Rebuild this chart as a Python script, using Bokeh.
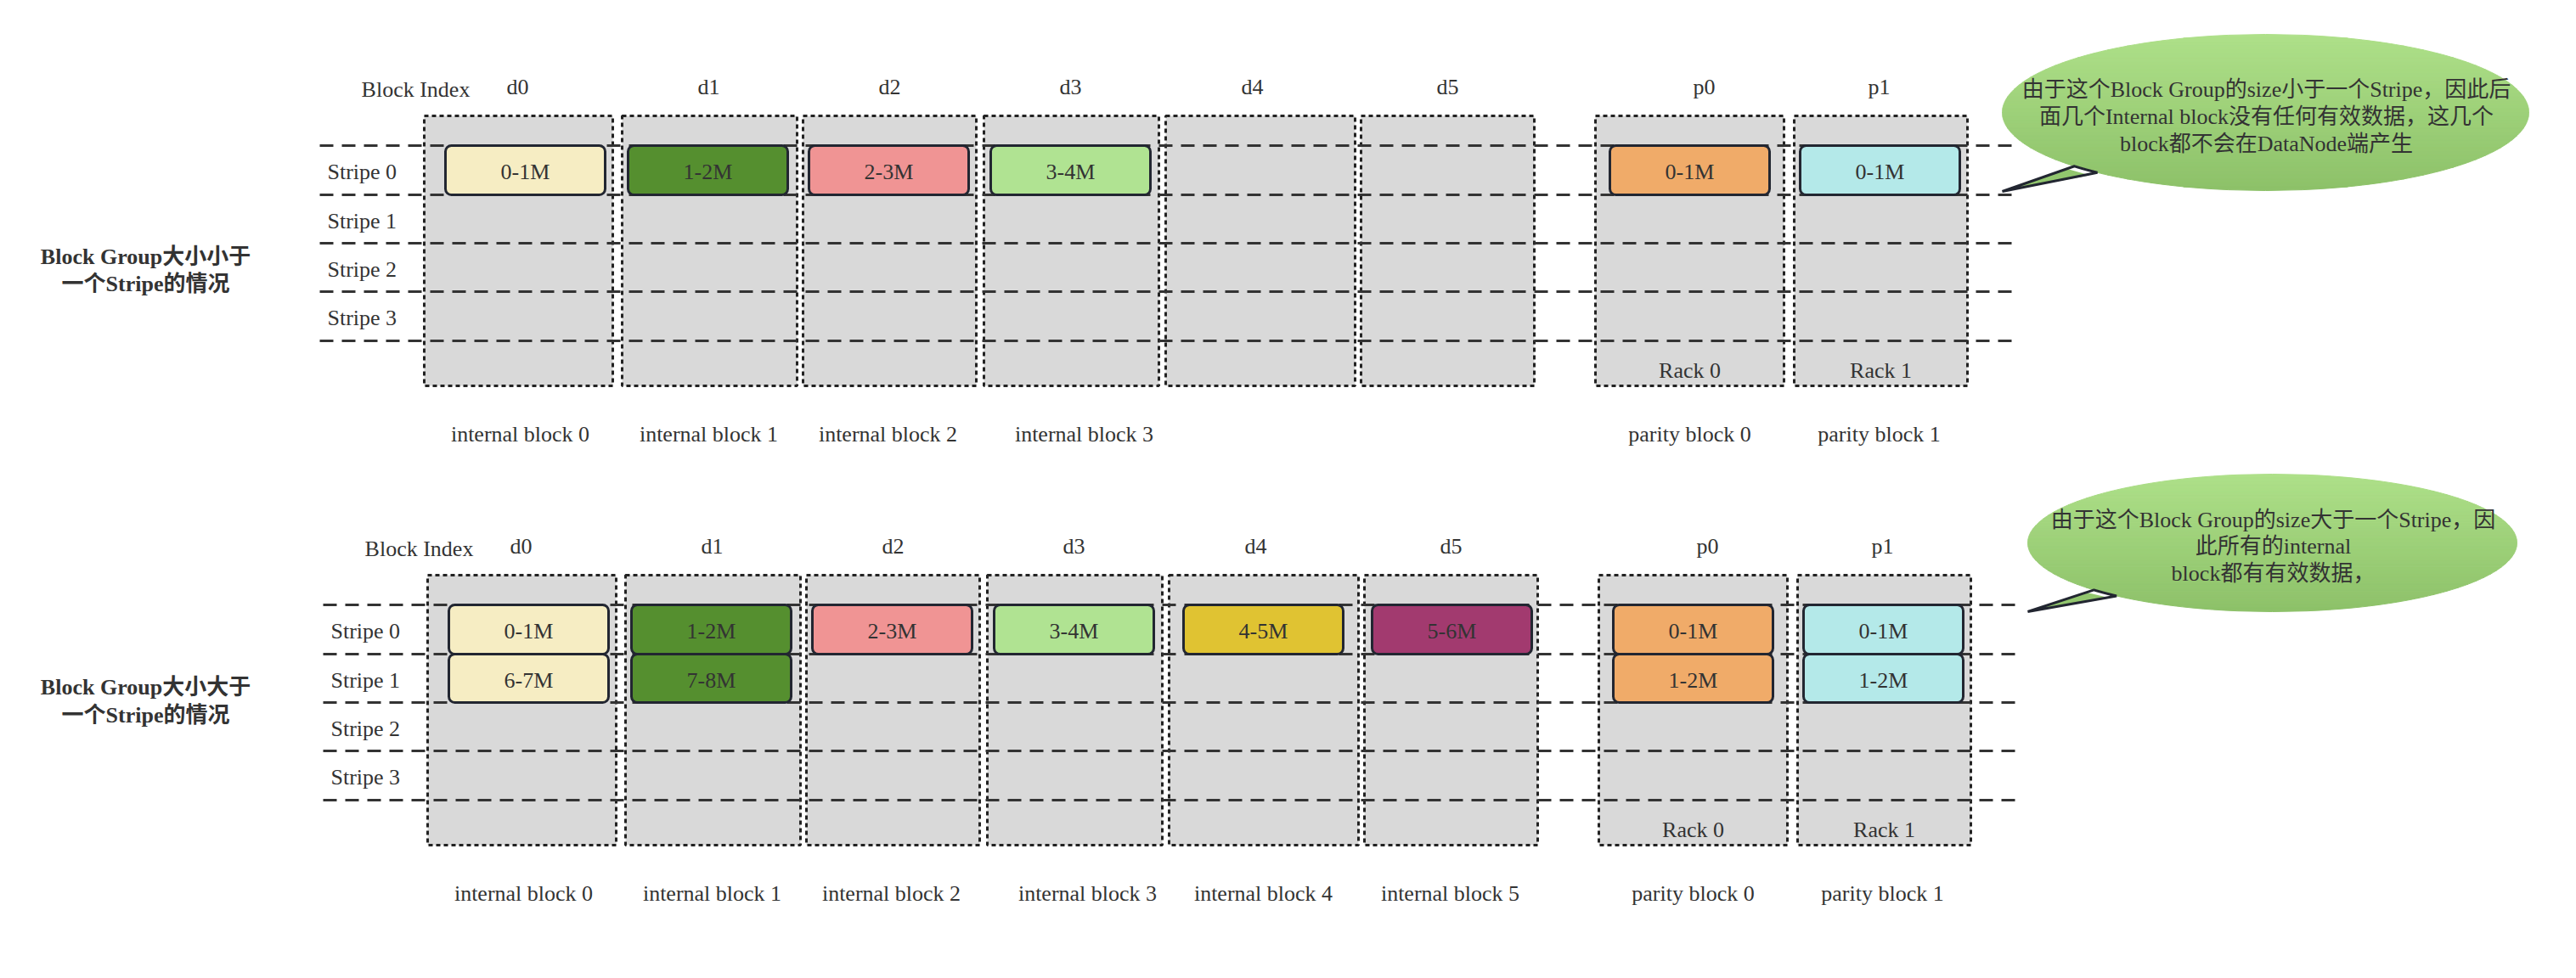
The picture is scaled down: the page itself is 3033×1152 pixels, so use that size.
import numpy as np
from bokeh.plotting import figure
from bokeh.models import Range1d
from bokeh.embed import file_html
from bokeh.resources import INLINE
from bokeh.core.properties import value

# ---------------- data ----------------
block_index = ["d0", "d1", "d2", "d3", "d4", "d5", "p0", "p1"]
stripes = ["Stripe 0", "Stripe 1", "Stripe 2", "Stripe 3"]
racks = ["Rack 0", "Rack 1"]
rack_cols = ["p0", "p1"]

small_title = ["Block Group大小小于", "一个Stripe的情况"]
large_title = ["Block Group大小大于", "一个Stripe的情况"]

small_cells_col = ["d0", "d1", "d2", "d3", "p0", "p1"]
small_cells_stripe = [0, 0, 0, 0, 0, 0]
small_cells_label = ["0-1M", "1-2M", "2-3M", "3-4M", "0-1M", "0-1M"]

large_cells_col = ["d0", "d1", "d2", "d3", "d4", "d5", "p0", "p1", "d0", "d1", "p0", "p1"]
large_cells_stripe = [0, 0, 0, 0, 0, 0, 0, 0, 1, 1, 1, 1]
large_cells_label = ["0-1M", "1-2M", "2-3M", "3-4M", "4-5M", "5-6M", "0-1M", "0-1M",
                     "6-7M", "7-8M", "1-2M", "1-2M"]

small_block_names = ["internal block 0", "internal block 1", "internal block 2", "internal block 3",
                     "", "", "parity block 0", "parity block 1"]
large_block_names = ["internal block 0", "internal block 1", "internal block 2", "internal block 3",
                     "internal block 4", "internal block 5", "parity block 0", "parity block 1"]

small_note = ["由于这个Block Group的size小于一个Stripe，因此后",
              "面几个Internal block没有任何有效数据，这几个",
              "block都不会在DataNode端产生"]
large_note = ["由于这个Block Group的size大于一个Stripe，因",
              "此所有的internal",
              "block都有有效数据，"]

# ---------------- styles / layout ----------------
col_color = {"d0": "#f6edc3", "d1": "#558f2f", "d2": "#f09494", "d3": "#b0e392",
             "d4": "#e0c332", "d5": "#a23a6f", "p0": "#f0ab69", "p1": "#b4e9e9"}
col_left = [507, 740, 953, 1166, 1380, 1610, 1886, 2120]
col_right = [729, 946, 1157, 1372, 1603, 1814, 2108, 2324]
blk_left = [532, 747, 960, 1174, 1397, 1619, 1903, 2127]
blk_w = 188
index_x = [617, 842, 1055, 1268, 1482, 1712, 2014, 2220]
name_x = [620, 842, 1053, 1284, 1491, 1711, 1997, 2220]
col_top, col_bot = 144, 462
stripe_lines = [179, 237, 294, 351, 409]
line_x0, line_x1 = 384, 2378

FONT = value("'Liberation Serif', 'Noto Sans CJK SC'")
TXT = "#333333"
FS = value("26px")

p = figure(width=3017, height=1136, x_range=Range1d(8, 3025), y_range=Range1d(1144, 8),
           output_backend="svg", toolbar_location=None,
           x_axis_location=None, y_axis_location=None, min_border=0)
p.outline_line_color = None
p.grid.visible = False
p.background_fill_color = "white"


def text(xs, ys, labels, bold=False, align="center"):
    p.text(x=xs, y=ys, text=labels, text_font=FONT, text_font_size=FS,
           text_color=TXT, text_align=align, text_baseline="middle",
           text_font_style="bold" if bold else "normal")


def diagram(dx, dy, cells_col, cells_stripe, cells_label, names, title, title_y):
    ci = {c: i for i, c in enumerate(block_index)}
    # columns
    p.quad(left=[l + dx for l in col_left], right=[r + dx for r in col_right],
           top=[col_top + dy] * 8, bottom=[col_bot + dy] * 8,
           fill_color="#d9d9d9", line_color="#222222", line_width=3, line_dash="5 4")
    # stripe dashed lines
    p.multi_line(xs=[[line_x0 + dx, line_x1 + dx] for _ in stripe_lines],
                 ys=[[y + dy, y + dy] for y in stripe_lines],
                 line_color="#333333", line_width=3, line_dash="16 10")
    # blocks
    L = [blk_left[ci[c]] + dx for c in cells_col]
    T = [stripe_lines[s] + dy for s in cells_stripe]
    B = [stripe_lines[s + 1] + dy for s in cells_stripe]
    p.quad(left=L, right=[l + blk_w for l in L], top=T, bottom=B,
           fill_color=[col_color[c] for c in cells_col], line_color="#222631",
           line_width=3, border_radius=7)
    text([l + blk_w / 2 for l in L], [(t + b) / 2 + 2 for t, b in zip(T, B)], cells_label)
    # index labels
    text([497 + dx], [113 + dy], ["Block Index"])
    text([x + dx for x in index_x], [110 + dy] * 8, block_index)
    # stripe labels
    text([393 + dx] * 4, [(stripe_lines[i] + stripe_lines[i + 1]) / 2 + 2 + dy for i in range(4)],
         stripes, align="left")
    # rack labels
    text([(col_left[ci[c]] + col_right[ci[c]]) / 2 + dx for c in rack_cols], [444 + dy] * 2, racks)
    # block names
    keep = [i for i, n in enumerate(names) if n]
    text([name_x[i] + dx for i in keep], [519 + dy] * len(keep), [names[i] for i in keep])
    # title
    text([179, 179], title_y, title, bold=True)


diagram(0, 0, small_cells_col, small_cells_stripe, small_cells_label, small_block_names,
        small_title, [310, 342])
diagram(4, 541, large_cells_col, large_cells_stripe, large_cells_label, large_block_names,
        large_title, [817, 850])


def hexmix(c1, c2, t):
    a = np.array([int(c1[i:i + 2], 16) for i in (1, 3, 5)])
    b = np.array([int(c2[i:i + 2], 16) for i in (1, 3, 5)])
    c = (a + (b - a) * t).round().astype(int)
    return "#%02x%02x%02x" % tuple(c)


def callout(cx, cy, a, b, base1, base2, tip, lines, line_y, text_x):
    top_c, bot_c = "#aee089", "#8dc169"
    # tail
    p.patch([base1[0], tip[0], base2[0]], [base1[1], tip[1], base2[1]],
            fill_color=hexmix(top_c, bot_c, 0.85), line_color=None)
    # gradient bands
    n = 40
    edges = np.linspace(cy - b, cy + b, n + 1)
    for i in range(n):
        ys = np.linspace(edges[i], edges[i + 1], 6)
        half = a * np.sqrt(np.clip(1 - ((ys - cy) / b) ** 2, 0, 1))
        px = np.concatenate([cx - half, (cx + half)[::-1]])
        py = np.concatenate([ys, ys[::-1]])
        col = hexmix(top_c, bot_c, (i + 0.5) / n)
        p.patch(list(px), list(py), fill_color=col, line_color=col, line_width=1)
    # outline
    t1 = np.arctan2((base1[1] - cy) / b, (base1[0] - cx) / a)
    t2 = np.arctan2((base2[1] - cy) / b, (base2[0] - cx) / a)
    ts = np.linspace(t2, t1 + 2 * np.pi if t1 < t2 else t1, 300)
    ox = list(cx + a * np.cos(ts)) + [tip[0]]
    oy = list(cy + b * np.sin(ts)) + [tip[1]]
    p.patch(ox, oy, fill_color=None, line_color="#222631", line_width=3)
    text([text_x] * len(lines), line_y, lines)


callout(2675, 140, 310, 92, (2440, 206), (2468, 214), (2365, 233), small_note, [113, 145, 177], 2676)
callout(2683, 647, 288, 81, (2463, 705), (2492, 712), (2395, 728), large_note, [620, 651, 683], 2684)

open("out.html", "w").write(file_html(p, INLINE))
